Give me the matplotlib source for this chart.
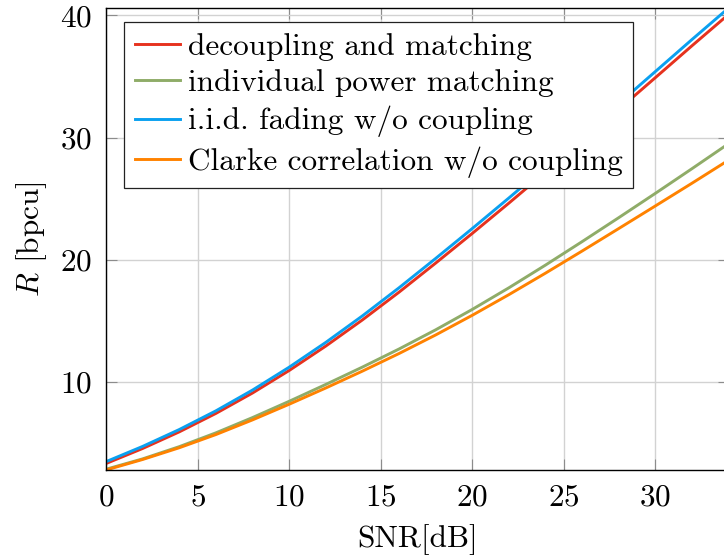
import matplotlib
matplotlib.use("Agg")
import matplotlib.pyplot as plt

plt.rcParams.update({
    "font.family": "serif",
    "font.serif": ["cmr10"],
    "mathtext.fontset": "cm",
    "axes.formatter.use_mathtext": True,
    "font.size": 22.5,
})

# SNR grid in dB
snr_db = [0, 2, 4, 6, 8, 10, 12, 14, 16, 18, 20, 22, 24, 26, 28, 30, 32, 34]

# achievable rates in bits per channel use
rate_decoupling = [3.32, 4.55, 5.91, 7.42, 9.09, 10.93, 12.93, 15.07, 17.34,
                   19.72, 22.15, 24.63, 27.16, 29.74, 32.30, 34.90, 37.51, 40.08]
rate_individual = [2.85, 3.70, 4.70, 5.83, 7.08, 8.41, 9.79, 11.21, 12.69,
                   14.26, 15.93, 17.70, 19.56, 21.48, 23.44, 25.43, 27.45, 29.50]
rate_iid = [3.47, 4.72, 6.10, 7.63, 9.33, 11.20, 13.23, 15.40, 17.70,
            20.10, 22.55, 25.05, 27.60, 30.20, 32.78, 35.40, 38.02, 40.60]
rate_clarke = [2.79, 3.65, 4.61, 5.69, 6.89, 8.17, 9.50, 10.88, 12.32,
               13.84, 15.45, 17.14, 18.90, 20.71, 22.55, 24.40, 26.26, 28.15]

labels = ["decoupling and matching", "individual power matching",
          "i.i.d. fading w/o coupling", "Clarke correlation w/o coupling"]
colors = ["#e6321e", "#8fac68", "#0aa0f0", "#ff8200"]
series = [rate_decoupling, rate_individual, rate_iid, rate_clarke]

fig = plt.figure(figsize=(7.24, 5.58), dpi=100)
ax = fig.add_axes([106 / 724, 88 / 558, 622.6 / 724, 462 / 558])

for vals, col, lab in zip(series, colors, labels):
    ax.plot(snr_db, vals, color=col, lw=2.1, label=lab, zorder=3)

ax.set_xlim(0, 34)
ax.set_ylim(min(rate_clarke), max(rate_iid))
ax.set_xticks([0, 5, 10, 15, 20, 25, 30])
ax.set_yticks([10, 20, 30, 40])

ax.grid(True, color="#d2d2d2", lw=1.0, zorder=0)
ax.tick_params(direction="in", length=7.7, width=0.8, color="#8c8c8c",
               top=True, right=True, pad=10, labelsize=22.5)
for sp in ax.spines.values():
    sp.set_linewidth(1.0)
    sp.set_color("black")
    sp.set_zorder(4)

ax.set_xlabel("SNR[dB]", fontsize=22.5, labelpad=9)
ax.set_ylabel(r"$R$ [bpcu]", fontsize=22.5, labelpad=8)

leg = ax.legend(loc="upper left", bbox_to_anchor=(18.3 / 622.6, 1 - 14.3 / 462),
                fontsize=22.5, handlelength=1.45, handletextpad=0.25,
                labelspacing=0.28, borderpad=0.33, borderaxespad=0,
                fancybox=False, framealpha=1, edgecolor="#222222")
leg.get_frame().set_linewidth(0.9)
leg.set_zorder(5)

fig.savefig("out.png", dpi=100)
